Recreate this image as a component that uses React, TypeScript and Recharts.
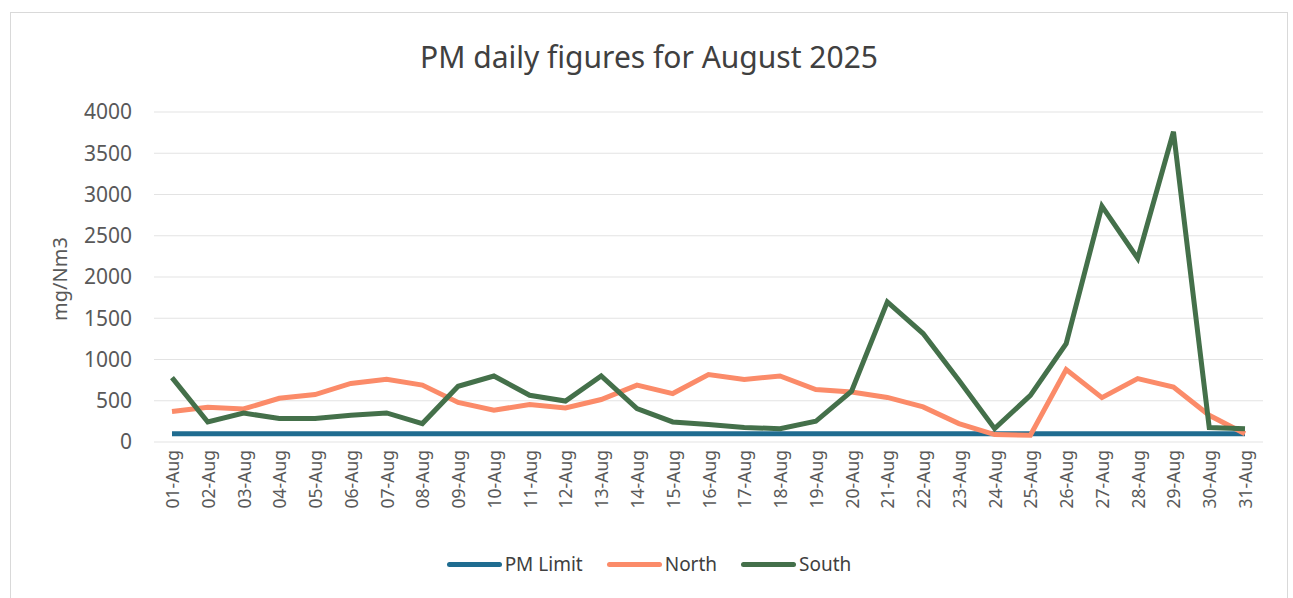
import React from 'react';
import { LineChart, Line, XAxis, YAxis, CartesianGrid } from 'recharts';

const days: string[] = [
  '01-Aug', '02-Aug', '03-Aug', '04-Aug', '05-Aug', '06-Aug', '07-Aug', '08-Aug',
  '09-Aug', '10-Aug', '11-Aug', '12-Aug', '13-Aug', '14-Aug', '15-Aug', '16-Aug',
  '17-Aug', '18-Aug', '19-Aug', '20-Aug', '21-Aug', '22-Aug', '23-Aug', '24-Aug',
  '25-Aug', '26-Aug', '27-Aug', '28-Aug', '29-Aug', '30-Aug', '31-Aug',
];

const pmLimit: number[] = [
  100, 100, 100, 100, 100, 100, 100, 100, 100, 100, 100, 100, 100, 100, 100, 100,
  100, 100, 100, 100, 100, 100, 100, 100, 100, 100, 100, 100, 100, 100, 100,
];

const north: number[] = [
  370, 420, 400, 530, 575, 710, 760, 690, 480, 385, 455, 413, 515, 690, 587, 817,
  757, 800, 635, 607, 540, 425, 223, 90, 81, 878, 538, 769, 667, 324, 100,
];

const south: number[] = [
  781, 243, 352, 284, 284, 324, 352, 223, 676, 800, 566, 497, 800, 405, 243, 211,
  175, 162, 251, 615, 1698, 1315, 748, 162, 566, 1193, 2859, 2225, 3760, 175, 162,
];

const yTicks: number[] = [0, 500, 1000, 1500, 2000, 2500, 3000, 3500, 4000];

const seriesNames = ['PM Limit', 'North', 'South'];
const colors = ['#1f6c90', '#fb8b69', '#44704a'];

const data = days.map((d, i) => ({
  day: d,
  limit: pmLimit[i],
  north: north[i],
  south: south[i],
}));

const FONT = '"Noto Sans", "Open Sans", sans-serif';

const XTick = (props: any) => {
  const { x, y, payload } = props;
  return (
    <text
      x={x}
      y={y}
      transform={`rotate(-90 ${x} ${y})`}
      textAnchor="end"
      dominantBaseline="central"
      fontSize={17.5}
      fontFamily={FONT}
      fill="#595959"
    >
      {payload.value}
    </text>
  );
};

export default function App() {
  return (
    <div
      style={{
        position: 'absolute',
        left: 10,
        top: 12,
        width: 1276,
        height: 600,
        border: '1px solid #d9d9d9',
        background: '#fff',
        fontFamily: FONT,
      }}
    >
      <div
        style={{
          position: 'absolute',
          left: 0,
          width: 1276,
          top: 24,
          textAlign: 'center',
          fontSize: 30,
          color: '#404040',
          lineHeight: '40px',
        }}
      >
        PM daily figures for August 2025
      </div>
      <div
        style={{
          position: 'absolute',
          left: 49 - 60,
          top: 266 - 14,
          width: 120,
          height: 28,
          lineHeight: '28px',
          textAlign: 'center',
          fontSize: 20,
          color: '#595959',
          transform: 'rotate(-90deg)',
        }}
      >
        mg/Nm3
      </div>
      <LineChart
        width={1274}
        height={586}
        data={data}
        margin={{ top: 99, right: 22, bottom: 0, left: 63 }}
      >
        <CartesianGrid vertical={false} stroke="#e3e3e3" />
        <XAxis
          dataKey="day"
          interval={0}
          height={157}
          axisLine={false}
          tickLine={false}
          padding={{ left: 18, right: 18 }}
          tick={<XTick />}
        />
        <YAxis
          width={80}
          domain={[0, 4000]}
          ticks={yTicks}
          axisLine={false}
          tickLine={false}
          tickMargin={16}
          tick={{ fontSize: 21, fill: '#595959', fontFamily: FONT }}
        />
        <Line
          dataKey="limit"
          name={seriesNames[0]}
          stroke={colors[0]}
          strokeWidth={5}
          dot={false}
          isAnimationActive={false}
        />
        <Line
          dataKey="north"
          name={seriesNames[1]}
          stroke={colors[1]}
          strokeWidth={5}
          dot={false}
          isAnimationActive={false}
        />
        <Line
          dataKey="south"
          name={seriesNames[2]}
          stroke={colors[2]}
          strokeWidth={5}
          dot={false}
          isAnimationActive={false}
        />
      </LineChart>
      <div
        style={{
          position: 'absolute',
          left: 0,
          width: 1276,
          top: 538,
          display: 'flex',
          justifyContent: 'center',
          alignItems: 'center',
          fontSize: 19,
          color: '#404040',
        }}
      >
        {seriesNames.map((n, i) => (
          <div key={n} style={{ display: 'flex', alignItems: 'center', marginLeft: i === 0 ? 0 : 24 }}>
            <div style={{ width: 55, height: 5, borderRadius: 3, background: colors[i], marginRight: 3 }} />
            <span>{n}</span>
          </div>
        ))}
      </div>
    </div>
  );
}
